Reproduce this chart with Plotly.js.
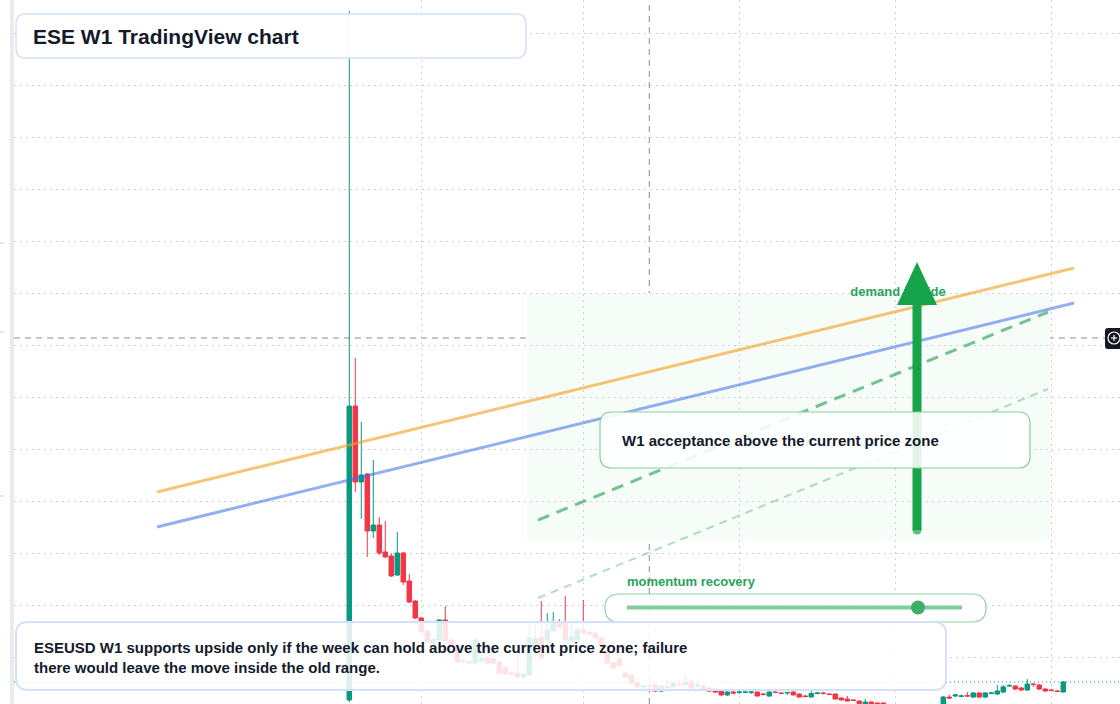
<!DOCTYPE html>
<html><head><meta charset="utf-8">
<script src="https://cdn.plot.ly/plotly-3.0.1.min.js"></script>
<style>html,body{margin:0;padding:0;background:#fff;}#chart{width:1120px;height:704px;}</style>
</head><body><div id="chart"></div>
<script>
// ---- weekly OHLC data, ESEUSD (one bar per week starting 2023-10-09) ----
const firstWeek = '2023-10-09';
const openP = [
0.00587,0.03413,0.02683,0.02760,0.02212,0.02269,0.02010,0.01971,0.01788,0.02000,
0.01731,0.01538,0.01375,0.01250,0.01125,0.01163,0.01356,0.01163,0.01115,0.00962,
0.00942,0.00942,0.00962,0.00990,0.00981,0.00952,0.00894,0.00846,0.00846,0.00808,
0.00827,0.01125,0.01192,0.01163,0.01250,0.01337,0.01337,0.01163,0.01163,0.01260,
0.01240,0.01231,0.01183,0.01038,0.00942,0.00981,0.00846,0.00827,0.00750,0.00712,
0.00721,0.00731,0.00673,0.00712,0.00712,0.00740,0.00731,0.00760,0.00721,0.00721,
0.00702,0.00692,0.00673,0.00635,0.00663,0.00659,0.00659,0.00659,0.00663,0.00644,
0.00625,0.00663,0.00654,0.00654,0.00663,0.00644,0.00625,0.00615,0.00649,0.00654,
0.00644,0.00644,0.00606,0.00596,0.00587,0.00577,0.00548,0.00567,0.00558,0.00558,
0.00534,0.00510,0.00481,0.00500,0.00471,0.00452,0.00481,0.00462,0.00490,0.00529,
0.00615,0.00625,0.00620,0.00630,0.00615,0.00654,0.00615,0.00649,0.00644,0.00663,
0.00721,0.00721,0.00702,0.00683,0.00740,0.00731,0.00692,0.00683,0.00673,0.00663];
const highP = [
0.07212,0.03875,0.03260,0.02769,0.02894,0.02346,0.02308,0.02000,0.02202,0.02010,
0.01798,0.01548,0.01385,0.01260,0.01183,0.01365,0.01490,0.01173,0.01125,0.00981,
0.00962,0.01183,0.01029,0.01010,0.00990,0.00962,0.00913,0.00865,0.01067,0.00817,
0.01308,0.01308,0.01538,0.01423,0.01433,0.01365,0.01587,0.01308,0.01279,0.01548,
0.01250,0.01240,0.01202,0.01067,0.00952,0.01000,0.00865,0.00837,0.00760,0.00731,
0.00750,0.00740,0.00731,0.00779,0.00760,0.00779,0.00827,0.00779,0.00788,0.00740,
0.00712,0.00712,0.00683,0.00673,0.00673,0.00683,0.00678,0.00673,0.00668,0.00654,
0.00683,0.00668,0.00659,0.00663,0.00683,0.00649,0.00635,0.00683,0.00663,0.00663,
0.00649,0.00649,0.00611,0.00625,0.00591,0.00582,0.00596,0.00572,0.00562,0.00562,
0.00538,0.00529,0.00519,0.00514,0.00490,0.00500,0.00500,0.00519,0.00534,0.00625,
0.00635,0.00644,0.00640,0.00663,0.00663,0.00663,0.00663,0.00659,0.00731,0.00731,
0.00740,0.00726,0.00712,0.00788,0.00750,0.00740,0.00702,0.00692,0.00683,0.00769];
const lowP = [
0.00567,0.02587,0.02327,0.01962,0.02144,0.01981,0.01952,0.01769,0.01779,0.01692,
0.01519,0.01365,0.01231,0.01135,0.01115,0.01154,0.01144,0.01106,0.00942,0.00942,
0.00933,0.00933,0.00942,0.00933,0.00933,0.00837,0.00827,0.00817,0.00798,0.00798,
0.00817,0.00990,0.00971,0.01087,0.01240,0.01279,0.01154,0.00990,0.01144,0.01212,
0.01202,0.01163,0.01029,0.00933,0.00875,0.00904,0.00798,0.00740,0.00702,0.00702,
0.00692,0.00663,0.00663,0.00692,0.00702,0.00721,0.00721,0.00692,0.00702,0.00683,
0.00663,0.00654,0.00625,0.00625,0.00640,0.00644,0.00654,0.00644,0.00620,0.00630,
0.00615,0.00654,0.00644,0.00635,0.00630,0.00611,0.00611,0.00611,0.00640,0.00640,
0.00635,0.00591,0.00582,0.00572,0.00577,0.00548,0.00538,0.00538,0.00548,0.00538,
0.00500,0.00471,0.00471,0.00462,0.00442,0.00442,0.00452,0.00452,0.00481,0.00519,
0.00596,0.00615,0.00615,0.00615,0.00606,0.00606,0.00606,0.00644,0.00635,0.00654,
0.00712,0.00683,0.00673,0.00673,0.00712,0.00683,0.00668,0.00673,0.00663,0.00659];
const closeP = [
0.03413,0.02683,0.02750,0.02212,0.02269,0.02000,0.01962,0.01779,0.02000,0.01721,
0.01529,0.01375,0.01240,0.01144,0.01173,0.01356,0.01154,0.01115,0.00952,0.00957,
0.00952,0.01163,0.00990,0.00942,0.00942,0.00846,0.00837,0.00837,0.00808,0.00837,
0.01183,0.01173,0.00990,0.01260,0.01337,0.01288,0.01163,0.01192,0.01260,0.01231,
0.01221,0.01183,0.01115,0.00942,0.00894,0.00923,0.00808,0.00750,0.00712,0.00721,
0.00716,0.00673,0.00721,0.00707,0.00750,0.00736,0.00760,0.00702,0.00731,0.00692,
0.00673,0.00663,0.00635,0.00663,0.00654,0.00663,0.00663,0.00663,0.00625,0.00640,
0.00663,0.00659,0.00649,0.00659,0.00635,0.00615,0.00620,0.00649,0.00654,0.00649,
0.00640,0.00596,0.00587,0.00577,0.00582,0.00553,0.00567,0.00543,0.00553,0.00548,
0.00510,0.00481,0.00500,0.00471,0.00452,0.00481,0.00462,0.00490,0.00529,0.00615,
0.00606,0.00635,0.00625,0.00625,0.00654,0.00615,0.00654,0.00654,0.00673,0.00712,
0.00726,0.00692,0.00683,0.00740,0.00736,0.00692,0.00673,0.00678,0.00668,0.00760];

// ---- drawings (week offset from first bar, price) ----
const orangeWeeks = [-32.05, 120.8];  const orangePrices = [0.02587, 0.04740];
const blueWeeks   = [-32.05, 120.8];  const bluePrices   = [0.02250, 0.04404];
const dashWeeks   = [31.45, 116.45];  const dashPrices   = [0.02317, 0.04317];
const lightWeeks  = [31.45, 116.45];  const lightPrices  = [0.01567, 0.03577];
const zoneWeeks   = [29.6, 116.8];    const zonePrices   = [0.02125, 0.04500];
const arrowWeek = 94.62; const arrowPrices = [0.02221, 0.04385, 0.04798]; const arrowHalfWeeks = 3.33;
const labelWeek = 91.45; const labelPrice = 0.04500;
const crossWeek = 50; const crossPrice = 0.04067;
const gridDates = ['2024-01-01','2024-07-08','2025-01-06','2025-07-07','2026-01-05'];
const texts = {
  title: 'ESE W1 TradingView chart',
  demand: 'demand upside',
  accept: 'W1 acceptance above the current price zone',
  momentum: 'momentum recovery',
  note: 'ESEUSD W1 supports upside only if the week can hold above the current price zone; failure<br>there would leave the move inside the old range.'
};

// ---- helpers ----
const WEEK = 7 * 86400000;
const t0 = Date.parse(firstWeek + 'T00:00:00Z');
function wk(n) { return new Date(t0 + n * WEEK).toISOString().replace('T', ' ').slice(0, 19); }
const dates = openP.map((_, i) => wk(i));
const W = 1120, H = 704, L = 14;
const PX = v => ((v - L) / (W - L)).toFixed(5);
const PY = v => (1 - v / H).toFixed(5);
function rr(x0, y0, x1, y1, r) {
  return `M${PX(x0 + r)},${PY(y0)} L${PX(x1 - r)},${PY(y0)} Q${PX(x1)},${PY(y0)} ${PX(x1)},${PY(y0 + r)} ` +
    `L${PX(x1)},${PY(y1 - r)} Q${PX(x1)},${PY(y1)} ${PX(x1 - r)},${PY(y1)} L${PX(x0 + r)},${PY(y1)} ` +
    `Q${PX(x0)},${PY(y1)} ${PX(x0)},${PY(y1 - r)} L${PX(x0)},${PY(y0 + r)} Q${PX(x0)},${PY(y0)} ${PX(x0 + r)},${PY(y0)} Z`;
}
const FONT = 'Liberation Sans, Arial, sans-serif';
const GREEN = '#16a34a';

const traces = [
  { type: 'scatter', mode: 'text', x: [wk(labelWeek)], y: [labelPrice], text: [texts.demand],
    textposition: 'middle center', textfont: { family: FONT, size: 13, color: '#2ea25c', weight: 700 }, hoverinfo: 'skip' },
  { type: 'candlestick', x: dates, open: openP, high: highP, low: lowP, close: closeP,
    increasing: { line: { color: '#089981', width: 1 }, fillcolor: '#089981' },
    decreasing: { line: { color: '#f23645', width: 1 }, fillcolor: '#f23645' },
    whiskerwidth: 0, hoverinfo: 'skip' },
  { type: 'scatter', mode: 'lines', x: orangeWeeks.map(wk), y: orangePrices,
    line: { color: 'rgba(240,160,32,0.62)', width: 3 }, hoverinfo: 'skip' },
  { type: 'scatter', mode: 'lines', x: blueWeeks.map(wk), y: bluePrices,
    line: { color: 'rgba(60,110,230,0.55)', width: 3 }, hoverinfo: 'skip' },
  { type: 'scatter', mode: 'lines', x: dashWeeks.map(wk), y: dashPrices,
    line: { color: 'rgba(34,160,80,0.62)', width: 3, dash: '12px,8px' }, hoverinfo: 'skip' },
  { type: 'scatter', mode: 'lines', x: lightWeeks.map(wk), y: lightPrices,
    line: { color: 'rgba(34,160,80,0.35)', width: 2, dash: '8px,6px' }, hoverinfo: 'skip' },
  { type: 'scatter', mode: 'lines+markers', x: [wk(arrowWeek), wk(arrowWeek)], y: [arrowPrices[0], arrowPrices[1]],
    line: { color: GREEN, width: 9 }, marker: { size: [9, 0], color: GREEN, line: { width: 0 } }, hoverinfo: 'skip' },
  { type: 'scatter', mode: 'lines', fill: 'toself', fillcolor: GREEN,
    x: [wk(arrowWeek - arrowHalfWeeks), wk(arrowWeek), wk(arrowWeek + arrowHalfWeeks), wk(arrowWeek - arrowHalfWeeks)],
    y: [arrowPrices[1], arrowPrices[2], arrowPrices[1], arrowPrices[1]],
    line: { color: GREEN, width: 0 }, hoverinfo: 'skip' }
];

const shapes = [
  // demand zone
  { type: 'rect', layer: 'below', xref: 'x', yref: 'y', x0: wk(zoneWeeks[0]), x1: wk(zoneWeeks[1]),
    y0: zonePrices[0], y1: zonePrices[1], fillcolor: '#f6fcf8', line: { width: 0 } },
  // last price line
  { type: 'line', layer: 'between', xref: 'paper', yref: 'y', x0: 0, x1: 1,
    y0: closeP[closeP.length - 1], y1: closeP[closeP.length - 1], line: { color: '#089981', width: 1, dash: '1px,3px' } },
  // crosshair
  { type: 'line', layer: 'between', xref: 'x', yref: 'paper', x0: wk(crossWeek), x1: wk(crossWeek), y0: 0, y1: 1,
    line: { color: '#8a8d96', width: 1, dash: '6px,5px' } },
  { type: 'line', layer: 'between', xref: 'paper', yref: 'y', x0: 0, x1: PX(1105), y0: crossPrice, y1: crossPrice,
    line: { color: '#8a8d96', width: 1, dash: '6px,5px' } },
  // left strip
  { type: 'rect', layer: 'above', xref: 'paper', yref: 'paper', x0: PX(10), x1: PX(14), y0: 0, y1: 1,
    fillcolor: '#ebebeb', line: { width: 0 } },
  { type: 'line', xref: 'paper', yref: 'paper', x0: PX(0), x1: PX(4), y0: PY(243), y1: PY(243), line: { color: '#cccccc', width: 1 } },
  { type: 'line', xref: 'paper', yref: 'paper', x0: PX(0), x1: PX(4), y0: PY(332), y1: PY(332), line: { color: '#cccccc', width: 1 } },
  { type: 'line', xref: 'paper', yref: 'paper', x0: PX(0), x1: PX(4), y0: PY(496), y1: PY(496), line: { color: '#cccccc', width: 1 } },
  // title box
  { type: 'path', layer: 'above', xref: 'paper', yref: 'paper', path: rr(16, 14, 526, 58, 10),
    fillcolor: 'rgba(255,255,255,0.96)', line: { color: '#d3e2fa', width: 1.5 } },
  // acceptance box
  { type: 'path', layer: 'above', xref: 'paper', yref: 'paper', path: rr(600, 412, 1030, 468, 12),
    fillcolor: 'rgba(255,255,255,0.88)', line: { color: '#83cf9c', width: 1.2 } },
  // momentum box
  { type: 'path', layer: 'above', xref: 'paper', yref: 'paper', path: rr(605, 594, 986, 622, 14),
    fillcolor: 'rgba(255,255,255,0.92)', line: { color: '#8fd3a5', width: 1.2 } },
  { type: 'line', layer: 'above', xref: 'paper', yref: 'paper', x0: PX(627), x1: PX(962), y0: PY(607.5), y1: PY(607.5),
    line: { color: '#7fcd9a', width: 4 } },
  { type: 'circle', layer: 'above', xref: 'paper', yref: 'paper', x0: PX(911), x1: PX(925), y0: PY(600.5), y1: PY(614.5),
    fillcolor: '#3daf69', line: { width: 0 } },
  // bottom note box
  { type: 'path', layer: 'above', xref: 'paper', yref: 'paper', path: rr(16, 622, 946, 690, 12),
    fillcolor: 'rgba(255,255,255,0.86)', line: { color: '#d3e2fa', width: 2 } },
  // price-axis plus button
  { type: 'path', layer: 'above', xref: 'paper', yref: 'paper', path: rr(1105, 328, 1126, 349, 3),
    fillcolor: '#131722', line: { width: 0 } },
  { type: 'circle', layer: 'above', xref: 'paper', yref: 'paper', x0: PX(1108), x1: PX(1120), y0: PY(332), y1: PY(344),
    line: { color: '#ffffff', width: 1.2 } },
  { type: 'line', layer: 'above', xref: 'paper', yref: 'paper', x0: PX(1111), x1: PX(1117), y0: PY(338), y1: PY(338),
    line: { color: '#ffffff', width: 1.2 } },
  { type: 'line', layer: 'above', xref: 'paper', yref: 'paper', x0: PX(1114), x1: PX(1114), y0: PY(335), y1: PY(341),
    line: { color: '#ffffff', width: 1.2 } }
];

const dark = '#131b2b';
const annotations = [
  { xref: 'paper', yref: 'paper', x: PX(30.5), y: PY(36), xanchor: 'left', yanchor: 'middle', showarrow: false,
    text: texts.title, font: { family: FONT, size: 21, color: dark, weight: 700 } },
  { xref: 'paper', yref: 'paper', x: PX(620), y: PY(441), xanchor: 'left', yanchor: 'middle', showarrow: false,
    text: texts.accept, font: { family: FONT, size: 15, color: dark, weight: 700 } },
  { xref: 'paper', yref: 'paper', x: PX(625), y: PY(582), xanchor: 'left', yanchor: 'middle', showarrow: false,
    text: texts.momentum, font: { family: FONT, size: 13, color: '#27a35a', weight: 700 } },
  { xref: 'paper', yref: 'paper', x: PX(32), y: PY(657.5), xanchor: 'left', yanchor: 'middle', showarrow: false, align: 'left',
    text: texts.note, font: { family: FONT, size: 15, color: dark, weight: 700 } }
];

const yMin = 0.01 - 47 / 10400, yMax = 0.01 + 657 / 10400;
const layout = {
  width: W, height: H, margin: { l: L, r: 0, t: 0, b: 0, autoexpand: false },
  paper_bgcolor: '#ffffff', plot_bgcolor: '#ffffff', showlegend: false, hovermode: false,
  boxgap: 0.25, boxgroupgap: 0,
  xaxis: { type: 'date', range: [wk(-55.88), wk(128.45)], showticklabels: false, ticks: '',
    tickmode: 'array', tickvals: gridDates, showgrid: true, gridcolor: '#cfd2d8', griddash: '2px,4px', gridwidth: 1,
    zeroline: false, showline: false, rangeslider: { visible: false }, fixedrange: true },
  yaxis: { range: [yMin, yMax], showticklabels: false, ticks: '', tick0: 0, dtick: 0.005,
    showgrid: true, gridcolor: '#cfd2d8', griddash: '2px,4px', gridwidth: 1, zeroline: false, showline: false, fixedrange: true },
  shapes: shapes, annotations: annotations
};
Plotly.newPlot('chart', traces, layout, { staticPlot: true, displayModeBar: false });
</script>
</body></html>
